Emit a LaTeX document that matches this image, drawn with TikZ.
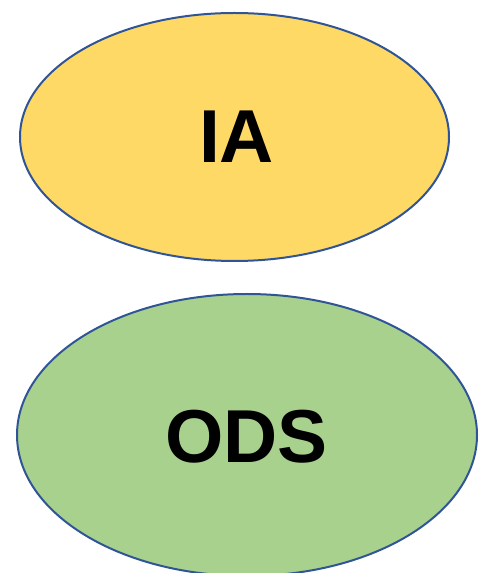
\documentclass[tikz,border=0pt]{standalone}
\usepackage{fontspec}
\setmainfont{Liberation Sans}
\usetikzlibrary{shapes.geometric}
\definecolor{iagold}{HTML}{FFD966}
\definecolor{odsgreen}{HTML}{A9D18E}
\definecolor{rimblue}{HTML}{2F5597}
\begin{document}
\begin{tikzpicture}
[x=1pt,y=1pt,blob/.style = {draw = rimblue, line width = 2pt, ellipse, inner sep = 0pt},
word/.style = {font = \fontsize{75}{78}\selectfont\bfseries},]
\useasboundingbox (0,0) rectangle (495,573);
\node (IA) at (234.5,436)[blob, fill = iagold, minimum width = 429pt, minimum height = 248pt] {};
\node (ODS) at (247,138)[blob, fill = odsgreen, minimum width = 460pt, minimum height = 282pt] {};
\node (IAtext) at (236.5,436)[word] {IA};
\node (ODStext) at (246.5,136)[word] {ODS};

\end{tikzpicture}
\end{document}
